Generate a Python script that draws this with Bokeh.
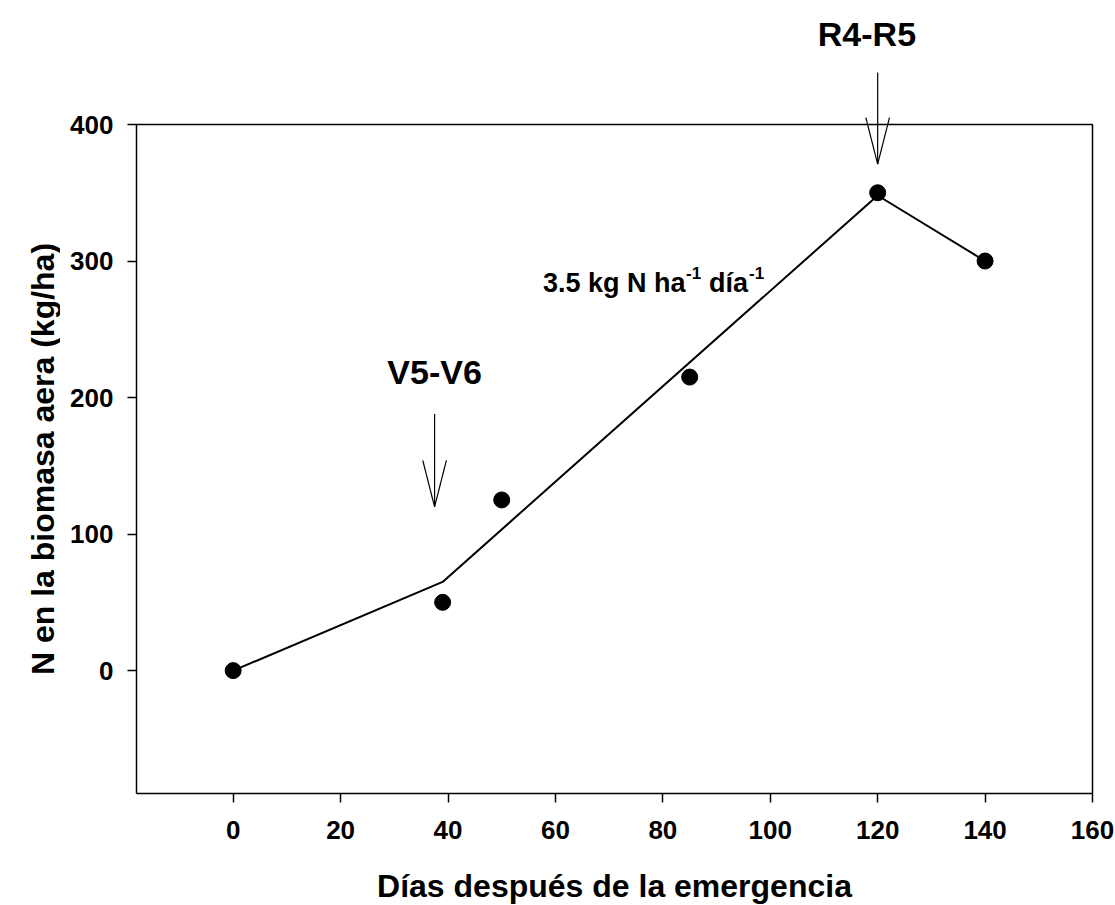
import math
from bokeh.plotting import figure
from bokeh.layouts import row
from bokeh.models import Range1d, Label, Arrow, FixedTicker
from bokeh.embed import file_html
from bokeh.resources import INLINE

# ---- data ----
days = [0, 39, 50, 85, 120, 140]
n_biomass = [0, 50, 125, 215, 350, 300]

fit_days = [0, 39, 120, 140]
fit_n = [0, 65, 348, 300]

x_ticks = [0, 20, 40, 60, 80, 100, 120, 140, 160]
y_ticks = [0, 100, 200, 300, 400]

x_min, x_max = -18, 160
y_min, y_max = -90, 400

x_title = "Días después de la emergencia"
y_title = "N en la biomasa aera (kg/ha)"

stage_labels = ["V5-V6", "R4-R5"]
stage_x = [37.5, 120]
stage_arrow_top = [188, 438]
stage_arrow_tip = [120, 371]
stage_label_x = [37.5, 118]
stage_label_y = [219, 466]

rate_text = "3.5 kg N ha"
rate_x = 57.7
rate_y = 284

FONT = "Liberation Sans"

# geometry (pixels): plot box spans 136..1092 x 124..793 of the 1115x905 page
W, H = 1115, 905
box_l, box_r, box_t, box_b = 136, 1092, 124, 793
px_x = (box_r - box_l) / (x_max - x_min)
px_y = (box_b - box_t) / (y_max - y_min)
pad = 2
strip_w = 60  # left strip holding the vertical axis title

y_range = Range1d(y_min - pad / px_y, y_max + box_t / px_y)

# left strip: vertical axis title, centred on the plot box
ystrip = figure(
    frame_width=strip_w, frame_height=box_b + pad,
    min_border_left=0, min_border_right=0, min_border_top=0,
    min_border_bottom=H - box_b - pad,
    x_range=Range1d(0, strip_w), y_range=y_range,
    x_axis_location=None, y_axis_location=None,
    output_backend="svg", toolbar_location=None,
    background_fill_color="white", border_fill_color="white",
)
ystrip.grid.visible = False
ystrip.outline_line_color = None
ystrip.add_layout(Label(x=42, y=(y_min + y_max) / 2, text=y_title, angle=math.pi / 2,
                        text_align="center", text_baseline="middle",
                        text_font=FONT, text_font_style="bold", text_font_size="32px",
                        text_color="black"))

p = figure(
    frame_width=box_r - box_l + 2 * pad, frame_height=box_b + pad,
    min_border_left=box_l - pad - strip_w, min_border_right=W - box_r - pad,
    min_border_top=0, min_border_bottom=H - box_b - pad,
    x_range=Range1d(x_min - pad / px_x, x_max + pad / px_x),
    y_range=y_range,
    output_backend="svg", toolbar_location=None,
    background_fill_color="white", border_fill_color="white",
)
p.grid.visible = False
p.outline_line_color = None

for ax in (p.xaxis[0], p.yaxis[0]):
    ax.axis_line_color = None
    ax.major_tick_line_width = 1.5
    ax.major_tick_out = 7
    ax.major_tick_in = 2
    ax.minor_tick_line_color = None
    ax.major_label_text_font = FONT
    ax.major_label_text_font_style = "bold"
    ax.major_label_text_font_size = "26px"
    ax.major_label_text_color = "black"
    ax.axis_label_text_font = FONT
    ax.axis_label_text_font_style = "bold"
    ax.axis_label_text_font_size = "32px"
    ax.axis_label_text_color = "black"

p.xaxis.ticker = FixedTicker(ticks=x_ticks)
p.yaxis.ticker = FixedTicker(ticks=y_ticks)
p.xaxis.axis_label = x_title
p.xaxis.major_label_standoff = 18
p.yaxis.major_label_standoff = 14
p.xaxis.axis_label_standoff = 26

# plot box
p.line([x_min, x_max, x_max, x_min, x_min], [y_min, y_min, y_max, y_max, y_min],
       line_color="black", line_width=1.5)

p.line(fit_days, fit_n, line_color="black", line_width=2)
p.scatter(days, n_biomass, size=16, fill_color="black", line_color="black")

# stage arrows (shaft + open head)
head_half = 2.2
head_len = 34
for xs, ytop, tip in zip(stage_x, stage_arrow_top, stage_arrow_tip):
    p.add_layout(Arrow(end=None, x_start=xs, y_start=ytop, x_end=xs, y_end=tip,
                       line_color="black", line_width=1.2))
    for side in (-1, 1):
        p.add_layout(Arrow(end=None, x_start=xs + side * head_half, y_start=tip + head_len,
                           x_end=xs, y_end=tip, line_color="black", line_width=1.2))

for txt, lx, ly in zip(stage_labels, stage_label_x, stage_label_y):
    p.add_layout(Label(x=lx, y=ly, text=txt, text_align="center", text_baseline="alphabetic",
                       text_font=FONT, text_font_style="bold", text_font_size="34px",
                       text_color="black"))

# rate annotation with superscripts
pieces = [(rate_text, 0, 0, "27px"), ("-1", 143, 10, "17px"),
          ("día", 166, 0, "27px"), ("-1", 206, 10, "17px")]
for txt, dx, dy, fs in pieces:
    p.add_layout(Label(x=rate_x, y=rate_y, x_offset=dx, y_offset=dy, text=txt,
                       text_align="left", text_baseline="alphabetic",
                       text_font=FONT, text_font_style="bold", text_font_size=fs,
                       text_color="black"))

layout = row(ystrip, p, spacing=0)
open("out.html", "w").write(file_html(layout, INLINE))
